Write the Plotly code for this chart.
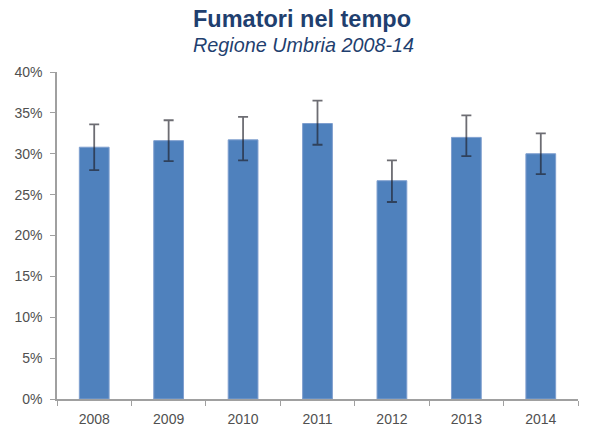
import plotly.graph_objects as go

years = ["2008", "2009", "2010", "2011", "2012", "2013", "2014"]
smokers_pct = [30.8, 31.6, 31.7, 33.7, 26.7, 32.0, 30.0]
ci_upper = [33.6, 34.1, 34.5, 36.5, 29.2, 34.7, 32.5]
ci_lower = [28.0, 29.1, 29.2, 31.1, 24.1, 29.7, 27.5]

err_plus = [u - v for u, v in zip(ci_upper, smokers_pct)]
err_minus = [v - l for v, l in zip(smokers_pct, ci_lower)]

L, R, T, B = 57, 29, 72, 29
W, H = 607, 428
plot_w = W - L - R
plot_h = H - T - B


def px_to_paper(px, py):
    return (px - L) / plot_w, (H - B - py) / plot_h


fig = go.Figure()
fig.add_trace(go.Bar(
    x=years, y=smokers_pct,
    width=0.4,
    marker=dict(color="#4F81BD", line=dict(color="#7F9FCF", width=1)),
    error_y=dict(type="data", symmetric=False, array=err_plus, arrayminus=err_minus,
                 color="rgba(30,30,40,0.65)", thickness=1.8, width=5),
    hoverinfo="x+y",
))

fig.update_layout(
    width=W, height=H,
    margin=dict(l=L, r=R, t=T, b=B, autoexpand=False),
    paper_bgcolor="white", plot_bgcolor="white",
    showlegend=False,
    font=dict(family="Liberation Sans, Arial, sans-serif", color="#404040"),
)

tx, ty = px_to_paper(302, 19)
sx, sy = px_to_paper(303, 45)
fig.add_annotation(text="<b>Fumatori nel tempo</b>", x=tx, y=ty, xref="paper", yref="paper",
                   showarrow=False, xanchor="center", yanchor="middle",
                   font=dict(size=23.5, color="#1F3F6F", family="Liberation Sans, Arial"))
fig.add_annotation(text="<i>Regione Umbria 2008-14</i>", x=sx, y=sy, xref="paper", yref="paper",
                   showarrow=False, xanchor="center", yanchor="middle",
                   font=dict(size=19.8, color="#1F3F6F", family="Liberation Sans, Arial"))

fig.update_yaxes(
    range=[0, 40], dtick=5, ticksuffix="%", automargin=False,
    showgrid=False, zeroline=False,
    showline=True, linecolor="#A0A0A0", linewidth=1.5,
    ticks="outside", ticklen=5, tickcolor="#A0A0A0", tickwidth=1,
    ticklabelstandoff=5,
    tickfont=dict(size=14, color="#505050"),
)
fig.update_xaxes(
    type="category", tickson="boundaries", automargin=False,
    showgrid=False, showline=True, linecolor="#A0A0A0", linewidth=1.5,
    ticks="outside", ticklen=5, tickcolor="#A0A0A0", tickwidth=1,
    ticklabelstandoff=6,
    tickfont=dict(size=14, color="#505050"),
)

fig.write_html("out.html", config={"displayModeBar": False},
               post_script="document.body.style.margin='0';")
